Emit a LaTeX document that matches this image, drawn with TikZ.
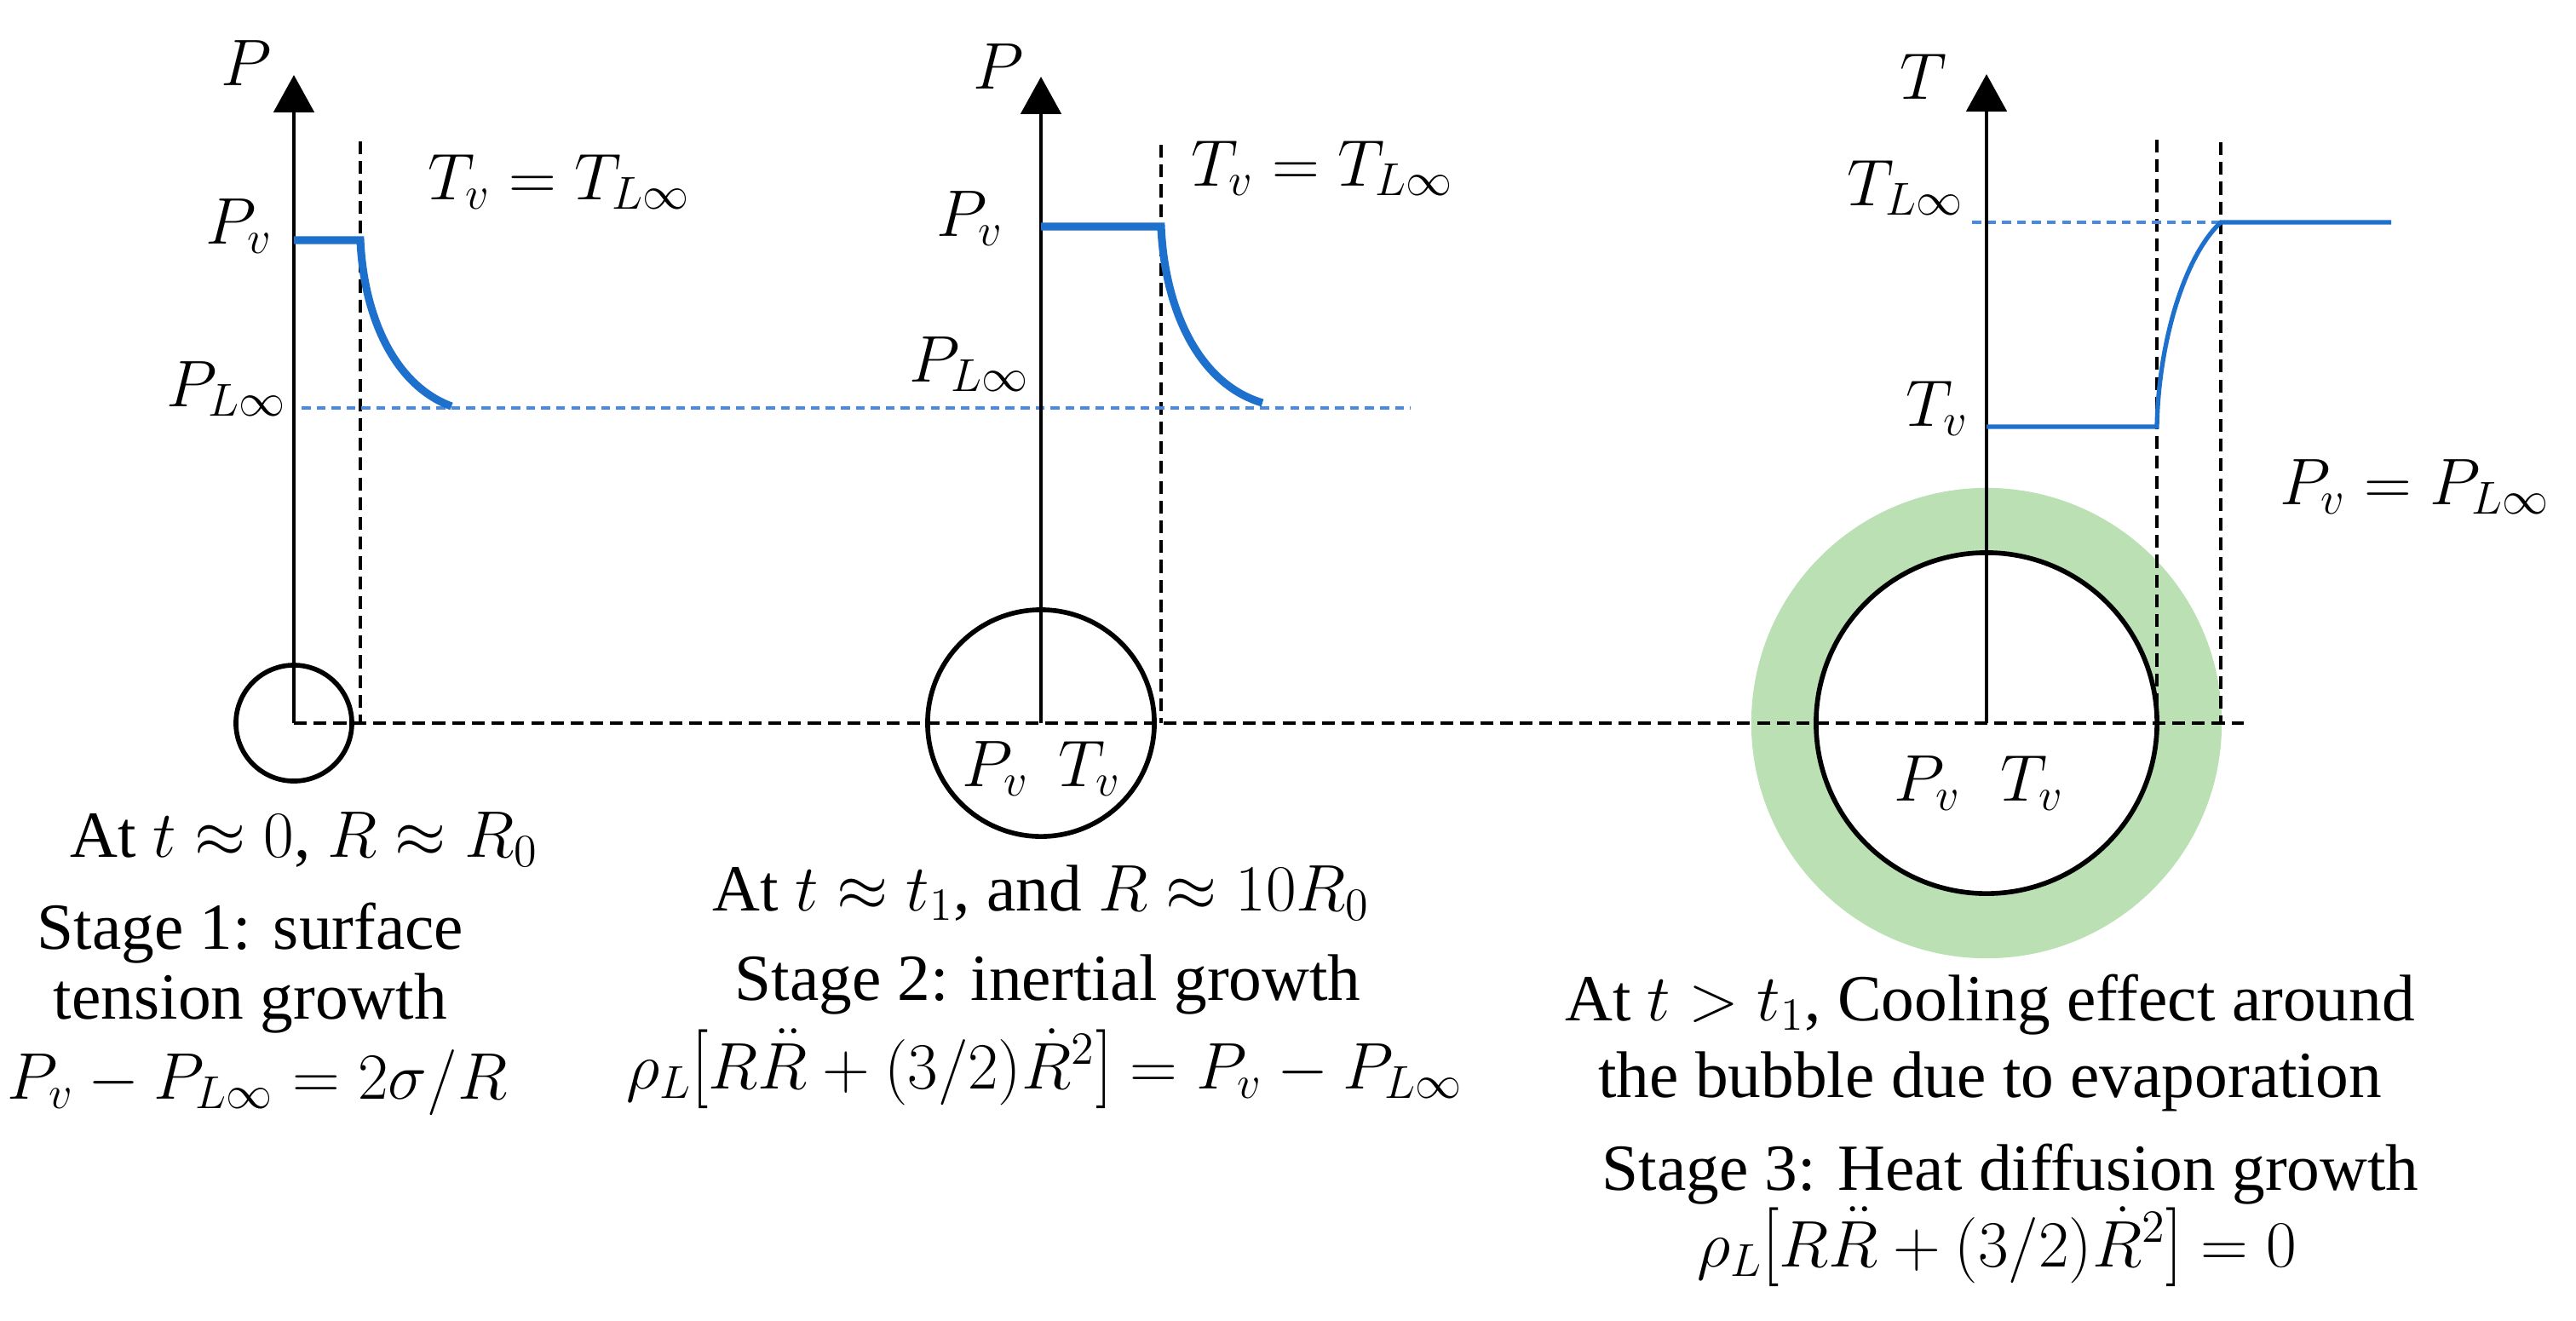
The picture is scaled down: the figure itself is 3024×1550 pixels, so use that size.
\RequirePackage{fix-cm}
\documentclass[tikz,border=0pt]{standalone}
\usepackage{graphicx}
\usepackage{fontspec}
\setmainfont{Liberation Serif}
\usetikzlibrary{arrows.meta}
\definecolor{lineblue}{RGB}{30,112,205}
\definecolor{dashblue}{RGB}{72,138,226}
\definecolor{ringgreen}{RGB}{186,224,180}
\newcommand{\mylbrk}{\mathopen{\scalebox{1}[1.2]{$[$}}}
\newcommand{\myrbrk}{\mathclose{\scalebox{1}[1.2]{$]$}}}
\begin{document}
\begin{tikzpicture}[x=0.01cm,y=-0.01cm,
  lbl/.style={inner sep=0pt, outer sep=0pt, font=\fontsize{22}{26}\selectfont},
  capt/.style={lbl, align=center},
  axisline/.style={line width=1.4pt, -{Triangle[width=13.4pt,length=12.5pt]}},
  guide/.style={line width=1.15pt, dash pattern=on 4.3pt off 2.3pt},
  bluethick/.style={lineblue, line width=2.6pt},
  bluethin/.style={lineblue, line width=1.5pt},
  bluedash/.style={dashblue, line width=0.9pt, dash pattern=on 3pt off 2pt},
  bubble/.style={circle, draw, line width=1.6pt, fill=white, inner sep=0pt},
  ringstyle/.style={circle, fill=ringgreen, inner sep=0pt}
]
\useasboundingbox (0,0) rectangle (3024,1550);

% ---------- key points ----------
\coordinate (o1) at (345,849);
\coordinate (o2) at (1222,849);
\coordinate (o3) at (2332,849);
\coordinate (hend) at (2634,849);

% ---------- bubbles ----------
\node[ringstyle, minimum size=5.52cm] (ring3) at (o3) {};
\node[bubble, minimum size=1.36cm] (b1) at (o1) {};
\node[bubble, minimum size=2.66cm] (b2) at (o2) {};
\node[bubble, minimum size=4.0cm] (b3) at (o3) {};

% ---------- panel 1 ----------
\coordinate (a1top) at (345,88);
\coordinate (d1top) at (423,166);
\coordinate (d1bot) at (423,849);
\coordinate (pv1a) at (345,282);
\coordinate (pv1b) at (423,282);
\coordinate (c1end) at (530,477);
\coordinate (pl1a) at (354,479);
\coordinate (pl1b) at (1656,479);

% ---------- panel 2 ----------
\coordinate (a2top) at (1222,90);
\coordinate (d2top) at (1363,170);
\coordinate (d2bot) at (1363,849);
\coordinate (pv2a) at (1222,266);
\coordinate (pv2b) at (1363,266);
\coordinate (c2end) at (1482,473);

% ---------- panel 3 ----------
\coordinate (a3top) at (2332,87);
\coordinate (d3atop) at (2532,164);
\coordinate (d3abot) at (2532,849);
\coordinate (d3btop) at (2607,167);
\coordinate (d3bbot) at (2607,849);
\coordinate (tv3a) at (2332,501);
\coordinate (tv3b) at (2532,501);
\coordinate (tl3a) at (2315,261);
\coordinate (tl3b) at (2607,261);
\coordinate (tl3c) at (2807,261);

% ---------- guides ----------
\draw[guide] (o1) -- (hend);
\draw[guide] (d1top) -- (d1bot);
\draw[guide] (d2top) -- (d2bot);
\draw[guide] (d3atop) -- (d3abot);
\draw[guide] (d3btop) -- (d3bbot);
\draw[bluedash] (pl1a) -- (pl1b);
\draw[bluedash] (tl3a) -- (tl3b);

% ---------- axes ----------
\draw[axisline] (o1) -- (a1top);
\draw[axisline] (o2) -- (a2top);
\draw[axisline] (o3) -- (a3top);

% ---------- profiles ----------
\draw[bluethick] (pv1a) -- (pv1b) .. controls (427,370) and (462,452) .. (c1end);
\draw[bluethick] (pv2a) -- (pv2b) .. controls (1367,360) and (1405,450) .. (c2end);
\draw[bluethin] (tv3a) -- (tv3b) .. controls (2534,400) and (2565,300) .. (tl3b) -- (tl3c);

% ---------- axis labels ----------
\node[lbl, anchor=base] (P1) at (289,100) {$P$};
\node[lbl, anchor=base] (P2) at (1172,104) {$P$};
\node[lbl, anchor=base] (T3) at (2258,116) {$T$};

\node[lbl, anchor=base east] (Pv1) at (320,286) {$P_v$};
\node[lbl, anchor=base east] (PL1) at (336,477) {$P_{L\infty}$};
\node[lbl, anchor=base west] (eq1) at (502,234) {$T_v = T_{L\infty}$};

\node[lbl, anchor=base east] (Pv2) at (1178,277) {$P_v$};
\node[lbl, anchor=base east] (PL2) at (1208,448) {$P_{L\infty}$};
\node[lbl, anchor=base west] (eq2) at (1398,218) {$T_v = T_{L\infty}$};

\node[lbl, anchor=base east] (TL3) at (2305,241) {$T_{L\infty}$};
\node[lbl, anchor=base east] (Tv3) at (2311,500) {$T_v$};
\node[lbl, anchor=base west] (eq3) at (2676,592) {$P_v = P_{L\infty}$};

\node[lbl, anchor=base] (in2) at (1223,923) {$P_v\;\,T_v$};
\node[lbl, anchor=base] (in3) at (2323,940) {$P_v\;\,\,T_v$};

% ---------- captions (multi-line nodes anchored at last baseline) ----------
\node[lbl, anchor=base] (L1a) at (357,1006) {At $t \approx 0$, $R \approx R_0$};
\node[capt, anchor=base] (L1b) at (294,1290)
  {Stage 1: surface\\[-2.7pt] tension growth\\[0.7pt] \hspace*{4.5pt}$P_v - P_{L\infty} = 2\sigma/R$};

\node[lbl, anchor=base] (L2a) at (1222,1069) {At $t \approx t_1$, and $R \approx 10R_0$};
\node[capt, anchor=base] (L2b) at (1230,1278)
  {Stage 2: inertial growth\\[3.3pt] $\rho_L\mylbrk R\ddot{R} + (3/2)\dot{R}^2\myrbrk = P_v - P_{L\infty}$\hspace*{2pt}};

\node[capt, anchor=base] (L3a) at (2336,1288)
  {At $t > t_1$, Cooling effect around\\[-0.4pt] the bubble due to evaporation};
\node[capt, anchor=base] (L3c) at (2360,1487)
  {Stage 3: Heat diffusion growth\\[-0.4pt] $\rho_L\mylbrk R\ddot{R} + (3/2)\dot{R}^2\myrbrk = 0$\hspace*{9pt}};
\end{tikzpicture}
\end{document}
